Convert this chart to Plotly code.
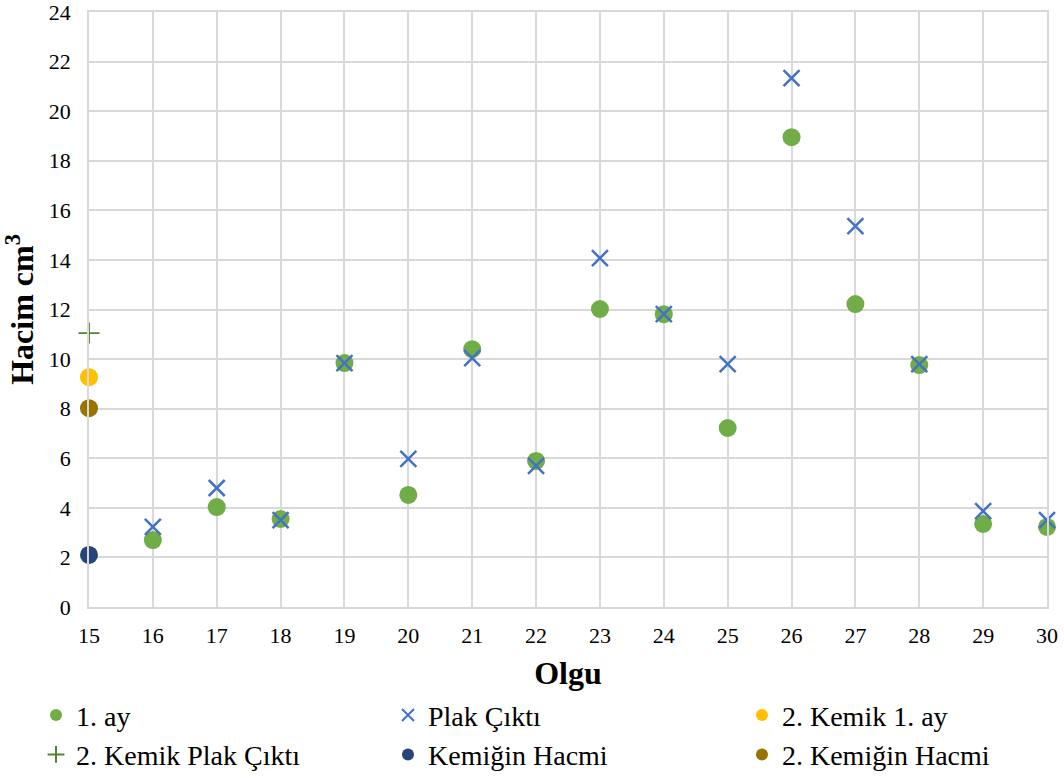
import plotly.graph_objects as go

# Case numbers on the x axis
olgu = [16, 17, 18, 19, 20, 21, 22, 23, 24, 25, 26, 27, 28, 29, 30]

# Volumes (cm3)
ay1 = [2.70, 4.03, 3.55, 9.84, 4.52, 10.40, 5.89, 12.02, 11.81, 7.22, 18.95, 12.22, 9.76, 3.35, 3.23]
plak_cikti = [3.23, 4.80, 3.50, 9.84, 5.97, 10.04, 5.69, 14.07, 11.81, 9.80, 21.33, 15.36, 9.80, 3.87, 3.50]

# Second bone of case 15
olgu_15 = [15]
kemik2_ay1 = [9.27]
kemik2_plak = [11.05]
kemigin_hacmi = [2.10]
kemigin_hacmi2 = [8.02]

font_family = "Liberation Serif"

fig = go.Figure()

circle = dict(symbol="circle", size=18, line=dict(width=0))

# Three legend columns, two entries each
fig.add_trace(go.Scatter(x=olgu, y=ay1, mode="markers", name="1. ay", legend="legend",
                         cliponaxis=False, marker=dict(color="#70ad47", **circle)))
fig.add_trace(go.Scatter(x=olgu, y=plak_cikti, mode="markers", name="Plak Çıktı", legend="legend2",
                         cliponaxis=False,
                         marker=dict(symbol="x-thin", size=16, color="#4472c4",
                                     line=dict(color="#4472c4", width=2.5))))
fig.add_trace(go.Scatter(x=olgu_15, y=kemik2_ay1, mode="markers", name="2. Kemik 1. ay", legend="legend3",
                         cliponaxis=False, marker=dict(color="#ffc000", **circle)))
fig.add_trace(go.Scatter(x=olgu_15, y=kemik2_plak, mode="markers", name="2. Kemik Plak Çıktı", legend="legend",
                         cliponaxis=False,
                         marker=dict(symbol="cross-thin", size=15, color="#548235",
                                     line=dict(color="#548235", width=1.8))))
fig.add_trace(go.Scatter(x=olgu_15, y=kemigin_hacmi, mode="markers", name="Kemiğin Hacmi", legend="legend2",
                         cliponaxis=False, marker=dict(color="#264478", **circle)))
fig.add_trace(go.Scatter(x=olgu_15, y=kemigin_hacmi2, mode="markers", name="2. Kemiğin Hacmi", legend="legend3",
                         cliponaxis=False, marker=dict(color="#997300", **circle)))

grid = "#d9d9d9"

legend_style = dict(orientation="v", xanchor="left", y=-0.14, yanchor="top",
                    itemsizing="constant", itemwidth=30, tracegroupgap=0,
                    bgcolor="rgba(0,0,0,0)",
                    font=dict(size=28, family=font_family, color="black"))

fig.update_layout(
    width=1064, height=776,
    paper_bgcolor="white", plot_bgcolor="white",
    margin=dict(l=89, r=17, t=12, b=169, autoexpand=False),
    font=dict(family=font_family, size=22, color="black"),
    xaxis=dict(range=[15, 30], dtick=1, tick0=15, showgrid=True, gridcolor=grid, gridwidth=1.5,
               showline=True, linecolor=grid, linewidth=1.5, mirror=True, zeroline=False,
               ticks="", ticklabelstandoff=8, ticklabeloverflow="allow",
               tickfont=dict(size=22, family=font_family),
               title=dict(text="<b>Olgu</b>", font=dict(size=32, family=font_family), standoff=14)),
    yaxis=dict(range=[0, 24], dtick=2, showgrid=True, gridcolor=grid, gridwidth=1.5,
               showline=True, linecolor=grid, linewidth=1.5, mirror=True, zeroline=False,
               ticks="", ticklabelstandoff=12, ticklabeloverflow="allow",
               tickfont=dict(size=22, family=font_family),
               title=dict(text="<b>Hacim cm<sup>3</sup></b>", font=dict(size=32, family=font_family),
                          standoff=8)),
    legend=dict(x=-0.0553, **legend_style),
    legend2=dict(x=0.3121, **legend_style),
    legend3=dict(x=0.6816, **legend_style),
    showlegend=True,
)

fig.write_html("out.html")
